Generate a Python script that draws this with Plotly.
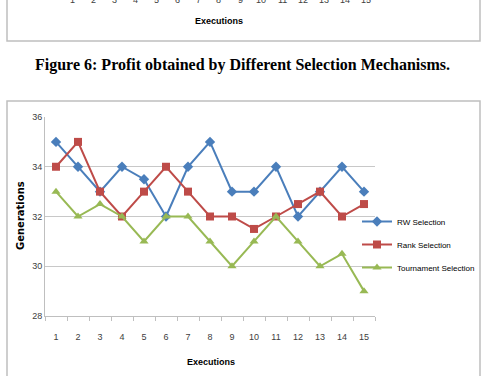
import plotly.graph_objects as go

executions = [str(i) for i in range(1, 16)]
rw_selection = [35, 34, 33, 34, 33.5, 32, 34, 35, 33, 33, 34, 32, 33, 34, 33]
rank_selection = [34, 35, 33, 32, 33, 34, 33, 32, 32, 31.5, 32, 32.5, 33, 32, 32.5]
tournament_selection = [33, 32, 32.5, 32, 31, 32, 32, 31, 30, 31, 32, 31, 30, 30.5, 29]
series_names = ["RW Selection", "Rank Selection", "Tournament Selection"]
caption = "Figure 6: Profit obtained by Different Selection Mechanisms."

NARROW = "Liberation Sans Narrow, Arial Narrow, Liberation Sans, Arial, sans-serif"

FW, FH = 484, 376
# plot area in pixels
PL, PR, PT, PB = 45, 375, 117, 316
W, H = PR - PL, PB - PT


def px(x):
    return (x - PL) / W


def py(y):
    return (PB - y) / H


fig = go.Figure()
styles = [
    ("#4A7EBB", "diamond", 8),
    ("#BE4B48", "square", 8),
    ("#98B954", "triangle-up", 8),
]
for name, vals, (col, sym, sz) in zip(series_names, [rw_selection, rank_selection, tournament_selection], styles):
    fig.add_trace(go.Scatter(
        x=executions, y=vals, name=name, mode="lines+markers",
        line=dict(color=col, width=2),
        marker=dict(symbol=sym, size=sz, color=col),
        legendgroup=name,
    ))

shapes = [
    # lower chart frame
    dict(type="rect", xref="paper", yref="paper", x0=px(7), x1=px(480), y0=py(382), y1=py(101),
         line=dict(color="#BFBFBF", width=1.5), layer="below"),
    # upper (cropped) chart frame
    dict(type="rect", xref="paper", yref="paper", x0=px(7), x1=px(480), y0=py(41), y1=py(-10),
         line=dict(color="#BFBFBF", width=1.5), layer="below"),
]

annotations = [
    dict(text="<b>" + caption + "</b>", xref="paper", yref="paper", x=px(242), y=py(65),
         showarrow=False, xanchor="center", yanchor="middle",
         font=dict(family="Liberation Serif, Times New Roman, serif", size=16, color="#000000")),
    dict(text="<b>Executions</b>", xref="paper", yref="paper", x=px(219), y=py(21),
         showarrow=False, xanchor="center", yanchor="middle",
         font=dict(family=NARROW, size=9, color="#000000")),
    dict(text="<b>Executions</b>", xref="paper", yref="paper", x=px(211), y=py(362),
         showarrow=False, xanchor="center", yanchor="middle",
         font=dict(family=NARROW, size=9, color="#000000")),
    dict(text="<b>Generations</b>", xref="paper", yref="paper", x=px(20), y=py(216),
         showarrow=False, xanchor="center", yanchor="middle", textangle=-90,
         font=dict(family="DejaVu Sans, sans-serif", size=10, color="#000000")),
]
# cropped tick labels of the chart above
for i, lab in enumerate(executions):
    annotations.append(dict(text=lab, xref="paper", yref="paper", x=px(72 + 21 * i), y=py(0),
                            showarrow=False, xanchor="center", yanchor="middle",
                            font=dict(family=NARROW, size=9, color="#404040")))

fig.update_layout(
    width=FW, height=FH,
    margin=dict(l=PL, r=FW - PR, t=PT, b=FH - PB, autoexpand=False),
    paper_bgcolor="white", plot_bgcolor="white",
    showlegend=True,
    legend=dict(xref="container", yref="container", x=357 / FW, y=1 - 207 / FH,
                xanchor="left", yanchor="top",
                font=dict(family=NARROW, size=8, color="#000000"),
                tracegroupgap=4, bgcolor="rgba(0,0,0,0)", borderwidth=0),
    shapes=shapes, annotations=annotations,
    xaxis=dict(type="category", range=[-0.5, len(executions) - 0.5], tickson="boundaries",
               ticks="outside", ticklen=4,
               tickcolor="#BFBFBF", showline=True, linecolor="#BFBFBF", linewidth=1,
               showgrid=False, tickangle=0, tickfont=dict(family=NARROW, size=9, color="#404040"),
               ticklabelstandoff=12, fixedrange=True),
    yaxis=dict(range=[28, 36], dtick=2, showgrid=True, gridcolor="#C8C8C8", gridwidth=1,
               showline=True, linecolor="#BFBFBF", ticks="", zeroline=False,
               tickfont=dict(family=NARROW, size=9, color="#404040"), fixedrange=True),
)

fig.write_html("out.html")
